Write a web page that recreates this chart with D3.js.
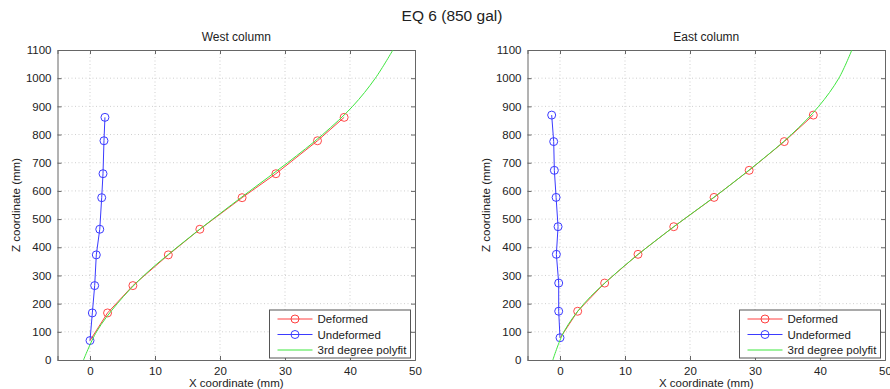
<!DOCTYPE html>
<html>
<head>
<meta charset="utf-8">
<script src="https://cdn.jsdelivr.net/npm/d3@7"></script>
<style>
  body { margin: 0; background: #fff; }
  text { font-family: "Liberation Sans", Arial, sans-serif; fill: #222; }
  .grid line { stroke: #cfcfcf; stroke-dasharray: 1,2.5; }
</style>
</head>
<body>
<div id="chart"></div>
<script>
// West column
var westZ = [69, 167, 264, 373, 464, 576, 661, 778, 861];
var westDeformed = [0, 2.7, 6.6, 12.05, 16.9, 23.4, 28.6, 35.0, 39.1];
var westUndeformed = [0, 0.36, 0.72, 0.97, 1.5, 1.8, 2.0, 2.15, 2.3];
// East column
var eastZ = [79, 173, 273, 375, 473, 577, 673, 775, 869];
var eastDeformed = [0.05, 2.72, 6.87, 12.0, 17.5, 23.7, 29.1, 34.5, 38.97];
var eastUndeformed = [0, -0.2, -0.2, -0.56, -0.3, -0.6, -0.87, -0.97, -1.28];
// polyfit curves
var fitZ = [0, 100, 200, 300, 400, 500, 600, 700, 800, 900, 1000, 1100];
var westFit = [-1.0, 1.0, 4.2, 8.3, 13.4, 18.9, 24.6, 30.4, 35.8, 40.4, 43.9, 46.6];
var eastFit = [-1.1, 0.6, 3.7, 8.2, 13.4, 19.1, 25.0, 30.5, 35.6, 39.8, 42.9, 44.9];

var xTicks = [0, 10, 20, 30, 40, 50];
var zTicks = [0, 100, 200, 300, 400, 500, 600, 700, 800, 900, 1000, 1100];
var legendLabels = ["Deformed", "Undeformed", "3rd degree polyfit"];

var W = 890, H = 389;
var svg = d3.select("#chart").append("svg")
  .attr("width", W).attr("height", H);

svg.append("text")
  .attr("x", 452).attr("y", 21)
  .attr("text-anchor", "middle")
  .style("font-size", "15.5px")
  .text("EQ 6 (850 gal)");

function drawPanel(left, title, z, def, undef, fit) {
  var width = 357.5, height = 310, top = 50;
  var g = svg.append("g").attr("transform", "translate(" + left + "," + top + ")");

  var x = d3.scaleLinear().domain([-5, 50]).range([0, width]);
  var y = d3.scaleLinear().domain([0, 1100]).range([height, 0]);

  // grid
  var grid = g.append("g").attr("class", "grid");
  grid.selectAll(".gx").data(xTicks.filter(function(d){ return d < 50; }))
    .enter().append("line")
    .attr("x1", function(d){ return x(d); }).attr("x2", function(d){ return x(d); })
    .attr("y1", 0).attr("y2", height);
  grid.selectAll(".gy").data(zTicks.filter(function(d){ return d > 0 && d < 1100; }))
    .enter().append("line")
    .attr("x1", 0).attr("x2", width)
    .attr("y1", function(d){ return y(d); }).attr("y2", function(d){ return y(d); });

  // axes (inward ticks on all sides)
  var ax = g.append("g").attr("transform", "translate(0," + height + ")")
    .call(d3.axisBottom(x).tickValues(xTicks).tickSize(-4).tickPadding(7).tickFormat(d3.format("d")));
  var ay = g.append("g")
    .call(d3.axisLeft(y).tickValues(zTicks).tickSize(-4).tickPadding(6).tickFormat(d3.format("d")));
  var at = g.append("g")
    .call(d3.axisTop(x).tickValues(xTicks).tickSize(-4).tickFormat(""));
  var ar = g.append("g").attr("transform", "translate(" + width + ",0)")
    .call(d3.axisRight(y).tickValues(zTicks).tickSize(-4).tickFormat(""));
  [ax, ay, at, ar].forEach(function(a){
    a.select(".domain").attr("stroke", "#666");
    a.selectAll(".tick line").attr("stroke", "#666");
    a.selectAll("text").style("font-size", "11.5px").attr("fill", "#222")
      .style("font-family", "'Liberation Sans', Arial, sans-serif");
  });

  g.append("text")
    .attr("x", width / 2).attr("y", -9)
    .attr("text-anchor", "middle")
    .style("font-size", "12px")
    .text(title);
  g.append("text")
    .attr("x", width / 2).attr("y", height + 27)
    .attr("text-anchor", "middle")
    .style("font-size", "11.5px")
    .text("X coordinate (mm)");
  g.append("text")
    .attr("transform", "translate(-38," + (height / 2) + ")rotate(-90)")
    .attr("text-anchor", "middle")
    .style("font-size", "11.5px")
    .text("Z coordinate (mm)");

  var marks = g.append("g");

  var fitLine = d3.line()
    .x(function(d){ return x(d[0]); })
    .y(function(d){ return y(d[1]); })
    .curve(d3.curveCatmullRom);
  var line = d3.line()
    .x(function(d){ return x(d[0]); })
    .y(function(d){ return y(d[1]); });

  var defPts = z.map(function(v, i){ return [def[i], v]; });
  var undefPts = z.map(function(v, i){ return [undef[i], v]; });
  var fitPts = fitZ.map(function(v, i){ return [fit[i], v]; });

  marks.append("path").datum(undefPts)
    .attr("d", line).attr("fill", "none").attr("stroke", "#3b3bff").attr("stroke-width", 1);
  marks.selectAll(".u").data(undefPts).enter().append("circle")
    .attr("cx", function(d){ return x(d[0]); }).attr("cy", function(d){ return y(d[1]); })
    .attr("r", 4).attr("fill", "none").attr("stroke", "#3b3bff");

  marks.append("path").datum(defPts)
    .attr("d", line).attr("fill", "none").attr("stroke", "#ff4040").attr("stroke-width", 1);
  marks.selectAll(".d").data(defPts.slice(1)).enter().append("circle")
    .attr("cx", function(d){ return x(d[0]); }).attr("cy", function(d){ return y(d[1]); })
    .attr("r", 4).attr("fill", "none").attr("stroke", "#ff4848");

  marks.append("path").datum(fitPts)
    .attr("d", fitLine).attr("fill", "none").attr("stroke", "#3ee63e").attr("stroke-width", 1);

  // legend
  var lx = 212, ly = 260, lw = 141, lh = 48;
  var leg = g.append("g").attr("transform", "translate(" + lx + "," + ly + ")");
  leg.append("rect").attr("width", lw).attr("height", lh)
    .attr("fill", "#fff").attr("stroke", "#555");
  var colors = ["#ff4040", "#3b3bff", "#3ee63e"];
  legendLabels.forEach(function(lab, i){
    var yy = 9 + i * 15.5;
    leg.append("line").attr("x1", 8).attr("x2", 43).attr("y1", yy).attr("y2", yy)
      .attr("stroke", colors[i]);
    if (i < 2) {
      leg.append("circle").attr("cx", 25.5).attr("cy", yy).attr("r", 4)
        .attr("fill", "none").attr("stroke", colors[i]);
    }
    leg.append("text").attr("x", 48).attr("y", yy + 4)
      .style("font-size", "11.5px").text(lab);
  });
}

drawPanel(57.5, "West column", westZ, westDeformed, westUndeformed, westFit);
drawPanel(527.5, "East column", eastZ, eastDeformed, eastUndeformed, eastFit);
</script>
</body>
</html>
